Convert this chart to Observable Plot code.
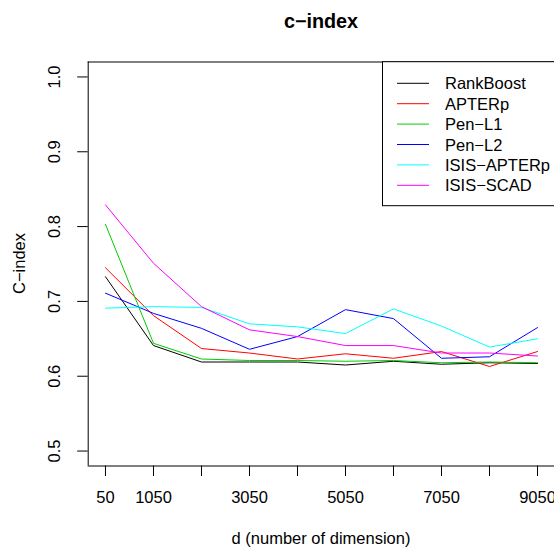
<!DOCTYPE html>
<html><head><meta charset="utf-8">
<script src="https://cdn.jsdelivr.net/npm/d3@7"></script>
<script src="https://cdn.jsdelivr.net/npm/@observablehq/plot@0.6"></script>
<style>body{margin:0;background:#fff}</style>
</head><body><div id="chart"></div>
<script>
const dims = [50, 1050, 2050, 3050, 4050, 5050, 6050, 7050, 8050, 9050];
const xLabelled = [50, 1050, 3050, 5050, 7050, 9050];
const yTicks = [0.5, 0.6, 0.7, 0.8, 0.9, 1.0];
const methods = ["RankBoost", "APTERp", "Pen\u2212L1", "Pen\u2212L2", "ISIS\u2212APTERp", "ISIS\u2212SCAD"];
const colors = ["#000000", "#FF0000", "#00CD00", "#0000FF", "#00FFFF", "#FF00FF"];
const rankBoost  = [0.733, 0.641, 0.619, 0.619, 0.619, 0.615, 0.620, 0.616, 0.618, 0.617];
const apterp     = [0.745, 0.681, 0.637, 0.631, 0.623, 0.630, 0.624, 0.633, 0.613, 0.633];
const penL1      = [0.803, 0.644, 0.623, 0.621, 0.621, 0.620, 0.621, 0.618, 0.619, 0.618];
const penL2      = [0.711, 0.684, 0.664, 0.636, 0.653, 0.689, 0.677, 0.624, 0.626, 0.665];
const isisApterp = [0.691, 0.693, 0.692, 0.670, 0.666, 0.657, 0.690, 0.667, 0.639, 0.650];
const isisScad   = [0.829, 0.751, 0.693, 0.662, 0.653, 0.641, 0.641, 0.631, 0.631, 0.627];
const series = [rankBoost, apterp, penL1, penL2, isisApterp, isisScad];
const xDomain = [-310, 9410];
const yDomain = [0.48, 1.02];

const rows = [];
series.forEach((vals, i) => vals.forEach((v, j) => rows.push({d: dims[j], value: v, method: methods[i]})));

const W = 554, H = 548, mL = 87.7, mR = -0.3, mT = 61.5, mB = 82.5;
const font = "'Liberation Sans', Arial, Helvetica, sans-serif";
const fs = 16.5;

const chart = Plot.plot({
  width: W, height: H,
  marginLeft: mL, marginRight: mR, marginTop: mT, marginBottom: mB,
  style: {fontFamily: font, fontSize: fs + "px", background: "white", overflow: "visible"},
  x: {domain: xDomain},
  y: {domain: yDomain},
  color: {domain: methods, range: colors},
  marks: [
    Plot.axisX(dims, {tickSize: 10.5, label: null, tickFormat: () => ""}),
    Plot.text(xLabelled, {x: d => d, text: d => String(d), frameAnchor: "bottom", dy: 32,
      lineAnchor: "middle", textAnchor: "middle", fontSize: fs, fill: "black"}),
    Plot.axisY(yTicks, {tickSize: 10.5, label: null, tickFormat: () => ""}),
    Plot.text(yTicks, {y: d => d, text: d => d3.format(".1f")(d), frameAnchor: "left", dx: -33,
      rotate: -90, textAnchor: "middle", lineAnchor: "middle", fontSize: fs, fill: "black"}),
    Plot.ruleX([xDomain[0]], {stroke: "black"}),
    Plot.ruleY(yDomain, {stroke: "black"}),
    Plot.line(rows, {x: "d", y: "value", stroke: "method", z: "method", strokeWidth: 1})
  ]
});
document.getElementById("chart").appendChild(chart);

const svg = d3.select(chart);
svg.append("text").attr("x", 321).attr("y", 28).attr("text-anchor", "middle")
  .attr("font-weight", "bold").attr("font-size", fs * 1.2)
  .attr("font-family", font).text("c\u2212index");
svg.append("text").attr("x", 321).attr("y", 544.3).attr("text-anchor", "middle")
  .attr("font-size", fs).attr("font-family", font)
  .text("d (number of dimension)");
svg.append("text").attr("transform", "translate(24.5,263.5) rotate(-90)").attr("text-anchor", "middle")
  .attr("font-size", fs).attr("font-family", font)
  .text("C\u2212index");

const lg = svg.append("g");
lg.append("rect").attr("x", 382.5).attr("y", 61.7).attr("width", 200).attr("height", 144)
  .attr("fill", "white").attr("stroke", "black");
methods.forEach((m, i) => {
  const y = 83.3 + i * 20.4;
  lg.append("line").attr("x1", 397).attr("x2", 429).attr("y1", y).attr("y2", y).attr("stroke", colors[i]);
  lg.append("text").attr("x", 445).attr("y", y + 6).attr("text-anchor", "start")
    .attr("font-size", fs).attr("font-family", font).text(m);
});
</script></body></html>
